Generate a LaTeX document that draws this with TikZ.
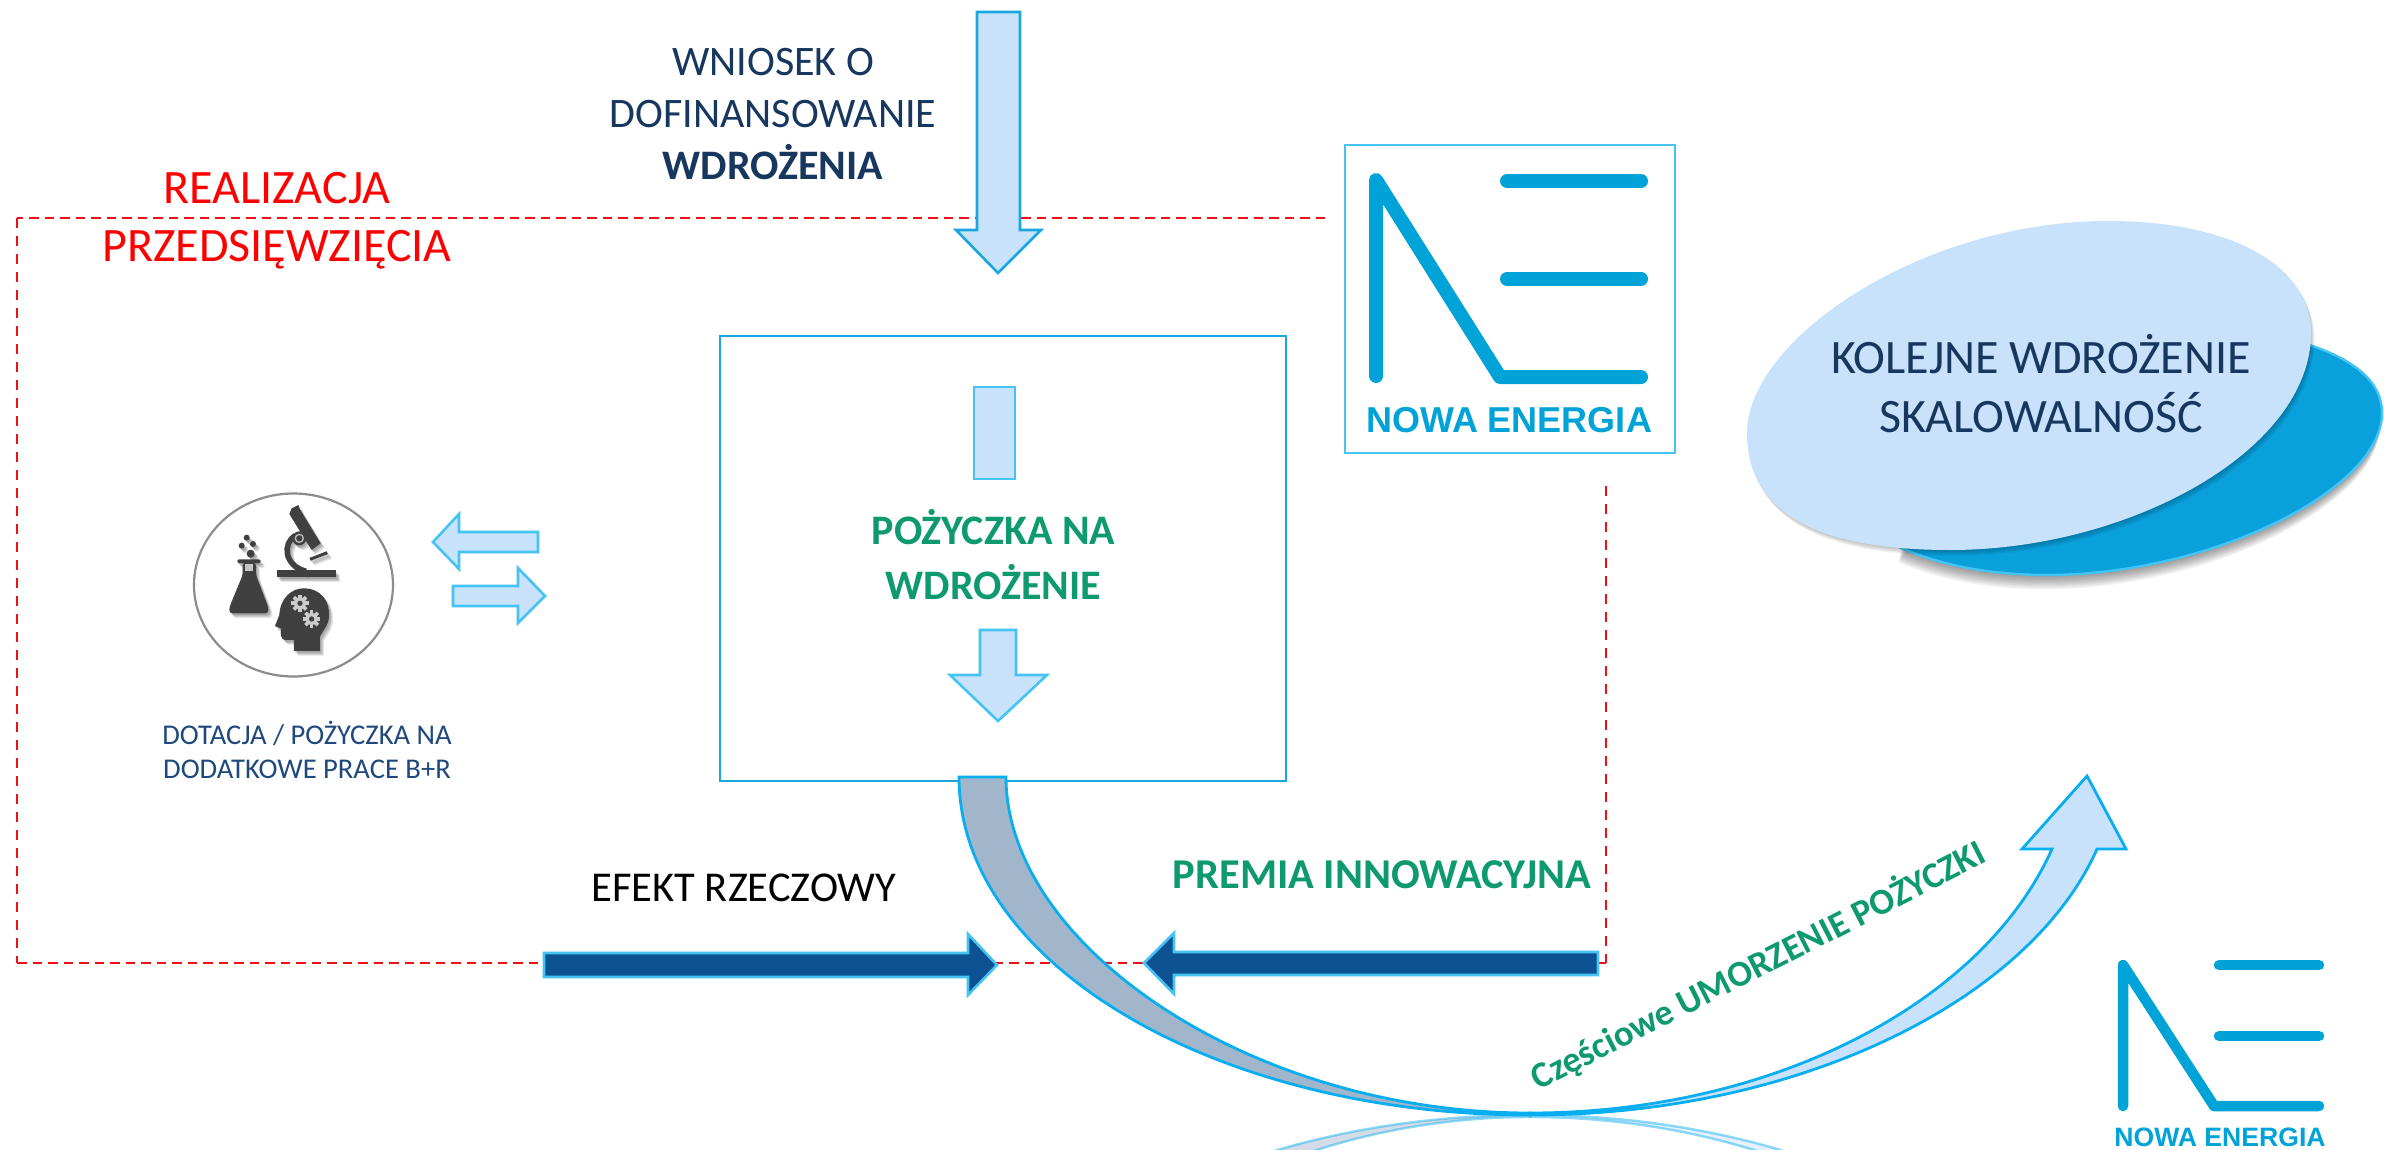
\documentclass[tikz,border=0pt]{standalone}
\usepackage{fontspec}
\setmainfont{Carlito}
\newfontfamily\logofont{Liberation Sans}
\definecolor{lightfill}{HTML}{C9E2FB}
\definecolor{cyanline}{HTML}{45C4F4}
\definecolor{topline}{HTML}{1AA7DF}
\definecolor{bandline}{HTML}{08AEF0}
\definecolor{darkell}{HTML}{0AA0DC}
\definecolor{navytext}{HTML}{17375E}
\definecolor{bluetext}{HTML}{1F497D}
\definecolor{greentext}{HTML}{0E9A6E}
\definecolor{bluearrow}{HTML}{0C5191}
\definecolor{greyband}{HTML}{A1B5CB}
\definecolor{logoblue}{HTML}{00A3D7}
\definecolor{icondark}{HTML}{404040}
\definecolor{redline}{HTML}{F00F18}
\newcommand{\fsz}[1]{\fontsize{#1pt}{#1pt}\selectfont}
\newcommand{\iconsil}[1]{%
  % flask
  \fill[#1,rounded corners=1.5pt] (52,178) rectangle (122,190);
  \fill[#1,rounded corners=3pt] (68,188) -- (68,225) -- (28,322) -- (28,340) -- (145,340) -- (145,322) -- (108,225) -- (108,188) -- cycle;
  \fill[#1] (80,113) circle (9) (65,137) circle (9) (99,132) circle (9) (92,161) circle (12);
  % microscope
  \fill[#1] (172,210) rectangle (347,232);
  \fill[#1] (208,42) -- (215,25) -- (235,15) -- (240,28) -- (302,130) -- (275,150) -- cycle;
  \draw[#1,line width=5.5pt] (226,106) .. controls (188,130) and (190,195) .. (258,214);
  \fill[#1] (238,115) circle (21);
  \draw[#1,line width=3pt] (270,178) -- (322,158);
  % head
  \fill[#1] (300,453) -- (222,453) -- (222,420) -- (195,420) .. controls (182,418) and (180,400) .. (184,386) -- (165,378) -- (178,345) .. controls (180,295) and (215,265) .. (250,265) .. controls (305,265) and (330,305) .. (327,350) .. controls (325,380) and (305,395) .. (300,410) -- cycle;
}
\newcommand{\gearicon}[2]{%
  \fill[gray!40] (#1,#2) circle (18);
  \foreach \a in {0,45,...,315} {\fill[gray!40,rotate around={\a:(#1,#2)}] (#1-5.5,#2-26) rectangle (#1+5.5,#2);}
  \fill[icondark] (#1,#2) circle (8);
}
\newcommand{\bandleft}{(959,777) .. controls (959,965) and (1218,1115) .. (1530,1115) -- (1530,1113) .. controls (1250,1113) and (1006,945) .. (1006,777) -- cycle}
\newcommand{\bandright}{(1530,1115) .. controls (1800,1115) and (2030,1000) .. (2097,849) -- (2126,849) -- (2087,776) -- (2022,849) -- (2052,849) .. controls (1982,1005) and (1770,1113) .. (1530,1113) -- cycle}
\newcommand{\lightell}{(2109,221) .. controls (2230,221) and (2311,265) .. (2311,333) .. controls (2311,450) and (2130,550) .. (1950,550) .. controls (1830,550) and (1747,520) .. (1747,433) .. controls (1747,340) and (1920,221) .. (2109,221) -- cycle}
\newcommand{\darkell}{(2382,413) .. controls (2382,490) and (2210,575) .. (2047,575) .. controls (1990,575) and (1940,565) .. (1901,548) -- (2000,400) -- (2250,330) .. controls (2330,345) and (2382,370) .. (2382,413) -- cycle}
\tikzset{
  lbl/.style={inner sep=0pt,outer sep=0pt},
  blockarrow/.style={fill=lightfill,draw=cyanline,line width=2.6pt,line join=miter},
  heavyarrow/.style={fill=bluearrow,draw=cyanline,line width=2.6pt,line join=miter},
  redhoriz/.style={draw=redline,line width=2.8pt,dash pattern=on 9.5pt off 6pt},
  redvert/.style={draw=redline,line width=2.8pt,dash pattern=on 10pt off 8pt},
  logoline/.style={draw=logoblue,line cap=round,line join=round},
}
\begin{document}
\begin{tikzpicture}[x=1pt,y=-1pt]
\useasboundingbox (0,0) rectangle (2384,1150);
\fill[white] (0,0) rectangle (2384,1150);

% dashed frame
\draw[redhoriz] (1325,218) -- (17,218);
\draw[redvert] (17,218) -- (17,963);
\draw[redhoriz] (17,963) -- (1606,963);
\draw[redvert] (1606,486) -- (1606,963);

% top arrow
\draw[fill=lightfill,draw=topline,line width=2.6pt] (977,12) -- (1020,12) -- (1020,230) -- (1041,230) -- (998,273) -- (956,230) -- (977,230) -- cycle;

% main box
\draw[draw=topline,line width=2.6pt] (720,336) rectangle (1286,781);

% shapes with soft shadow
\foreach \d in {1,...,9}{\begin{scope}[shift={(-\d*0.3,\d*1.6)}]\fill[black,opacity=0.05] \darkell;\end{scope}}
\draw[fill=darkell,draw=cyanline,line width=2.4pt] \darkell;
\foreach \d in {1,...,6}{\begin{scope}[shift={(\d*0.6,\d*1.0)}]\fill[black,opacity=0.04] \lightell;\end{scope}}
\fill[lightfill] \lightell;
\node[lbl,font=\fsz{48},text=navytext,align=center] (kolejne) at (2041,384) {KOLEJNE WDROŻENIE\\[11pt]SKALOWALNOŚĆ};

% top logo
\draw[draw=cyanline,line width=2.4pt,fill=white] (1345,145) rectangle (1675,453);
\draw[logoline,line width=14pt] (1376,376) -- (1376,180) -- (1500,377) -- (1641,377);
\draw[logoline,line width=14pt] (1507,181) -- (1641,181) (1507,279) -- (1641,279);
\node[lbl,font=\logofont\bfseries\fsz{36},text=logoblue] (logotop) at (1509,420) {NOWA ENERGIA};

% inner block arrows
\draw[blockarrow] (974,387) rectangle (1015,479);
\draw[blockarrow] (980,630) -- (1016,630) -- (1016,675) -- (1047,675) -- (998,721) -- (950,675) -- (980,675) -- cycle;
\node[lbl,font=\bfseries\fsz{42},text=greentext,align=center] (pozyczka) at (993.5,555) {POŻYCZKA NA\\[13pt]WDROŻENIE};

% top texts
\node[lbl,font=\fsz{42},text=navytext,align=center] (wniosek) at (773,114) {WNIOSEK O\\[10pt]DOFINANSOWANIE\\[10pt]\textbf{WDROŻENIA}};
\node[lbl,font=\fsz{48},text=red,align=center] (realizacja) at (277,221) {REALIZACJA\\[10pt]PRZEDSIĘWZIĘCIA};

% science icon
\draw[draw=gray!90,line width=2.2pt,fill=white] (293.5,585) ellipse [x radius=99.5,y radius=91.5];
\begin{scope}[shift={(220,500)},x=0.3333pt,y=-0.3333pt]
  \foreach \s in {3,6,9,12}{
    \begin{scope}[shift={(\s,\s+2)},opacity=0.1]\iconsil{black}\end{scope}
  }
  \iconsil{icondark}
  \fill[gray!45] (75,192) rectangle (100,213);
  \draw[gray!50,line width=1.3pt] (238,115) circle (12);
  \gearicon{240}{310}
  \gearicon{275}{357}
\end{scope}

% left and right small arrows
\draw[blockarrow] (538,532) -- (459,532) -- (459,514) -- (433,542) -- (459,569) -- (459,552) -- (538,552) -- cycle;
\draw[blockarrow] (453,586) -- (518,586) -- (518,568) -- (545,596) -- (518,623) -- (518,606) -- (453,606) -- cycle;
\node[lbl,font=\fsz{28.6},text=bluetext,align=center] (dotacja) at (307,750) {DOTACJA / POŻYCZKA NA\\[5pt]DODATKOWE PRACE B+R};

% heavy arrows
\draw[heavyarrow] (544,953) -- (968,953) -- (968,934) -- (997,965) -- (968,995) -- (968,977) -- (544,977) -- cycle;
\draw[heavyarrow] (1598,952) -- (1174,952) -- (1174,933) -- (1144,963) -- (1174,994) -- (1174,975) -- (1598,975) -- cycle;
\node[lbl,font=\fsz{42.5},text=black] (efekt) at (744,888) {EFEKT RZECZOWY};
\node[lbl,font=\bfseries\fsz{42.5},text=greentext] (premia) at (1382,875) {PREMIA INNOWACYJNA};

% reflection
\begin{scope}
  \clip (0,1110) rectangle (2384,1150);
  \begin{scope}[shift={(0,2230)},y=1pt,opacity=0.45]
    \draw[fill=greyband,draw=bandline,line width=2.4pt] \bandleft;
    \draw[fill=lightfill,draw=bandline,line width=2.4pt] \bandright;
  \end{scope}
\end{scope}

% swoosh
\draw[fill=greyband,draw=bandline,line width=2.8pt,line join=miter] \bandleft;
\draw[fill=lightfill,draw=bandline,line width=2.8pt,line join=miter] \bandright;

\node[lbl,font=\bfseries\fsz{36.5},text=greentext,rotate=27] (umorzenie) at (1758,965) {Częściowe UMORZENIE POŻYCZKI};

% bottom logo
\draw[logoline,line width=10.5pt] (2123,1106) -- (2123,965) -- (2214,1106) -- (2319,1106);
\draw[logoline,line width=10.5pt] (2219,965) -- (2319,965) (2219,1036) -- (2319,1036);
\node[lbl,font=\logofont\bfseries\fsz{26.6},text=logoblue] (logobottom) at (2220,1137) {NOWA ENERGIA};
\end{tikzpicture}
\end{document}
